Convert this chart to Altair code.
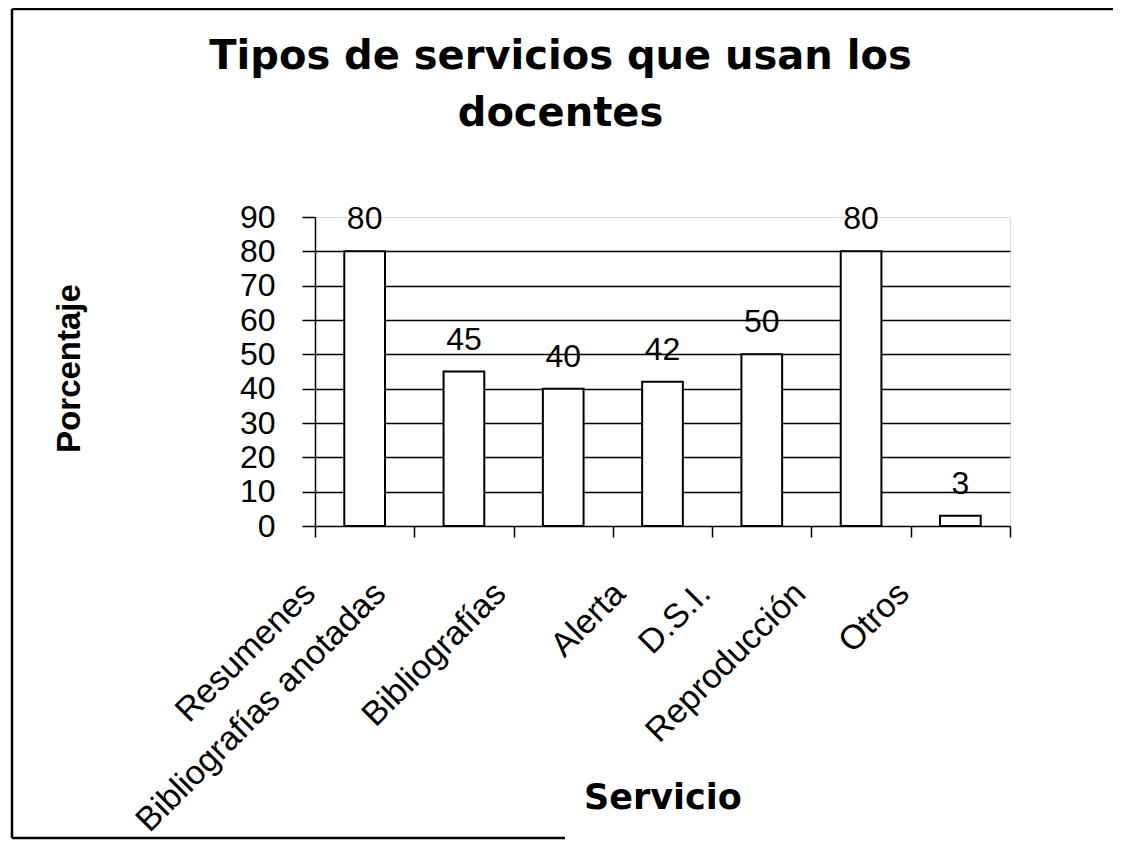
import altair as alt
import pandas as pd

# ---- data ----
categories = ["Resumenes", "Bibliografías anotadas", "Bibliografías", "Alerta",
              "D.S.I.", "Reproducción", "Otros"]
values = [80, 45, 40, 42, 50, 80, 3]
y_ticks = [0, 10, 20, 30, 40, 50, 60, 70, 80, 90]
title_lines = ["Tipos de servicios que usan los", "docentes"]

# ---- styling (label shifts along the axis, as in the scanned original) ----
label_shift = [-55, -84, -63, -43, -57, -61, -57]

df = pd.DataFrame({"servicio": categories, "porcentaje": values})

label_offset = {
    "condition": [
        {"test": f"datum.value === '{c}'", "value": s}
        for c, s in zip(categories, label_shift)
    ],
    "value": -57,
}

x_enc = alt.X(
    "servicio:N",
    sort=categories,
    scale=alt.Scale(paddingInner=0, paddingOuter=0),
    axis=alt.Axis(
        title="Servicio",
        titleFont="DejaVu Sans",
        titleFontWeight="bold",
        titleFontSize=35,
        titleColor="black",
        titleY=282,
        titleBaseline="alphabetic",
        labelAngle=-45,
        labelAlign="right",
        labelBaseline="middle",
        labelFont="Liberation Sans",
        labelFontSize=34,
        labelColor="black",
        labelPadding=51,
        labelOffset=label_offset,
        labelLimit=1000,
        labelOverlap=False,
        tickBand="extent",
        tickSize=11,
        tickColor="black",
        tickWidth=1.5,
        domainColor="black",
        domainWidth=1.5,
        grid=False,
    ),
)

y_enc = alt.Y(
    "porcentaje:Q",
    scale=alt.Scale(domain=[0, 90], nice=False),
    axis=alt.Axis(
        title="Porcentaje",
        values=y_ticks,
        labelOverlap=False,
        titleFont="Liberation Sans",
        titleFontSize=33,
        titleFontWeight="bold",
        titleColor="black",
        titleX=-236,
        titleY=151,
        titleAlign="center",
        titleBaseline="alphabetic",
        titleAngle=270,
        labelFont="Liberation Sans",
        labelFontSize=32,
        labelColor="black",
        labelPadding=27,
        tickSize=13,
        tickColor="black",
        tickWidth=1.5,
        domainColor="black",
        domainWidth=1.5,
        grid=True,
        gridColor="black",
        gridWidth=1.5,
        gridOpacity={"condition": {"test": "datum.value >= 90 || datum.value <= 0", "value": 0}, "value": 1},
    ),
)

base = alt.Chart(df).encode(x=x_enc, y=y_enc)

bars = base.mark_bar(
    fill="white", stroke="black", strokeWidth=2, width=alt.RelativeBandSize(0.41)
)

labels = base.mark_text(
    dy=-22, baseline="alphabetic", font="Liberation Sans", fontSize=32, color="black"
).encode(text="porcentaje:Q")

one = alt.Data(values=[{"f": 1}])
frame_left = alt.Chart(one).mark_rule(color="black", strokeWidth=2.5).encode(
    x=alt.value(-303), y=alt.value(-208), y2=alt.value(621)
)
frame_top = alt.Chart(one).mark_rule(color="black", strokeWidth=2.5).encode(
    x=alt.value(-303), x2=alt.value(806), y=alt.value(-208)
)
frame_bottom = alt.Chart(one).mark_rule(color="black", strokeWidth=2.5).encode(
    x=alt.value(-303), x2=alt.value(250), y=alt.value(621)
)

chart = alt.layer(bars, labels, frame_left, frame_top, frame_bottom).properties(
    width=695,
    height=309,
    autosize=alt.AutoSizeParams(type="none"),
    padding={"left": 307, "top": 209, "right": 103, "bottom": 314},
    title=alt.TitleParams(
        text=title_lines,
        font="DejaVu Sans",
        fontSize=40,
        fontWeight="bold",
        lineHeight=57,
        anchor="middle",
        frame="group",
        baseline="top",
        offset=0,
        dx=-102,
        dy=126,
        color="black",
    ),
).configure_view(stroke=None).configure(background="white")

chart.save("out.html", embed_options={"renderer": "svg", "actions": False})
